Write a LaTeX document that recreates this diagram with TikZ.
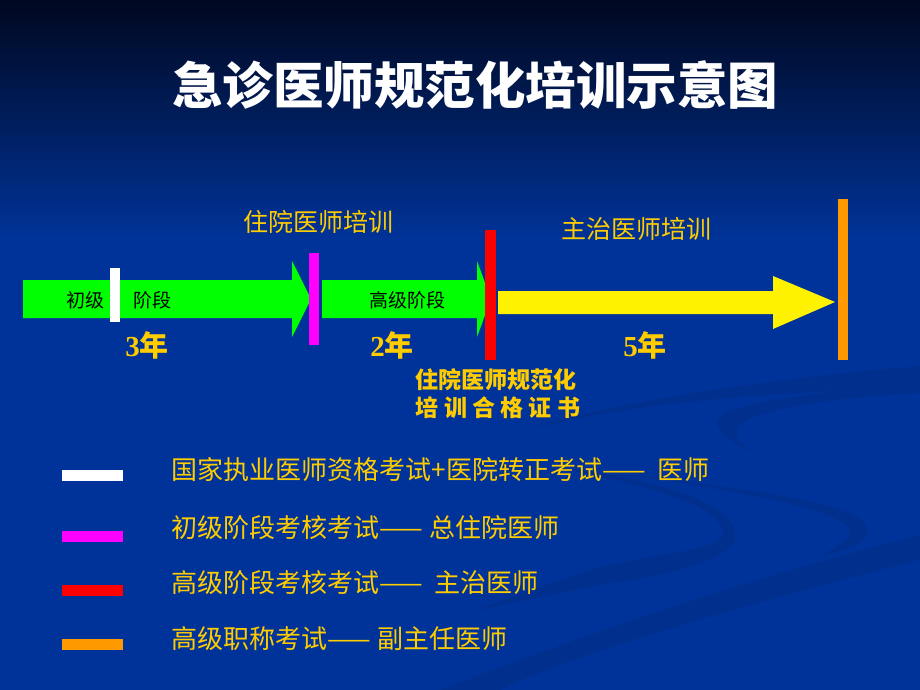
\documentclass[tikz,border=0pt]{standalone}
\usepackage{fontspec}
\setmainfont{Liberation Serif}
\newfontfamily\cjk{Noto Sans CJK SC}
\usetikzlibrary{
		positioning
	}
\definecolor{slideblue}{RGB}{0,51,153}
\definecolor{slidetop}{RGB}{0,8,32}
\definecolor{swoosh}{RGB}{0,47,142}
\definecolor{goldtext}{RGB}{255,204,0}
\definecolor{stagegreen}{RGB}{0,255,0}
\definecolor{markmagenta}{RGB}{255,0,255}
\definecolor{markorange}{RGB}{255,153,0}

\begin{document}
\begin{tikzpicture}[x=1pt, y=-1pt,
		marker/.style={inner sep=0pt, outer sep=0pt, minimum width=10pt},
		keybar/.style={inner sep=0pt, outer sep=0pt, minimum width=61pt, minimum height=11pt},
		stage/.style={font=\cjk\fontsize{19}{19}\selectfont, text=black, inner sep=0pt},
		phase/.style={font=\cjk\fontsize{25}{25}\selectfont, text=goldtext, inner sep=0pt},
		years/.style={font=\bfseries\fontsize{29}{29}\selectfont, text=goldtext, inner sep=0pt},
		keytext/.style={font=\cjk\fontsize{26}{26}\selectfont, text=goldtext, anchor=west, inner sep=0pt}]
	\useasboundingbox (0,0) rectangle (920,690);
	% background
	\fill[slideblue] (0,0) rectangle (920,690);
	\shade[top color=slidetop, bottom color=slideblue] (0,0) rectangle (920,240);
	\fill[swoosh] (520,432) .. controls (600,405) and (750,380) .. (920,366) -- (920,388) .. controls (750,392) and (620,405) .. (520,432) -- cycle;
	\fill[swoosh] (920,383) .. controls (780,395) and (700,408) .. (720,430) .. controls (728,440) and (740,447) .. (752,452) .. controls (735,440) and (725,425) .. (760,415) .. controls (800,402) and (860,396) .. (920,393) -- cycle;
	\fill[swoosh] (560,468) .. controls (650,478) and (725,500) .. (735,530) .. controls (742,555) and (690,572) .. (600,585) .. controls (550,595) and (500,605) .. (470,612) .. controls (510,597) and (560,580) .. (600,567) .. controls (680,550) and (732,548) .. (722,528) .. controls (712,505) and (650,485) .. (560,468) -- cycle;
	\fill[swoosh] (640,476) .. controls (760,490) and (860,505) .. (867,527) .. controls (872,543) and (845,550) .. (820,556) .. controls (840,545) and (855,538) .. (848,528) .. controls (840,512) and (760,495) .. (640,476) -- cycle;
	\fill[swoosh] (440,690) .. controls (520,660) and (700,590) .. (920,535) -- (920,560) .. controls (720,610) and (560,660) .. (500,690) -- cycle;

	% title
	\node[font=\cjk\bfseries\fontsize{50.5}{50.5}\selectfont, text=white, inner sep=0pt] (title) at (475,85) {急诊医师规范化培训示意图};

	% stage arrows
	\fill[stagegreen] (23,280) -- (292,280) -- (292,261) -- (311,299) -- (292,337) -- (292,318) -- (23,318) -- cycle;
	\fill[stagegreen] (322,280) -- (477,280) -- (477,261) -- (491,299) -- (477,337) -- (477,318) -- (322,318) -- cycle;
	\fill[yellow] (498,291) -- (773,291) -- (773,276) -- (835,302) -- (773,329) -- (773,314) -- (498,314) -- cycle;

	% exam markers
	\node[marker, fill=white, minimum height=54pt] (mwhite) at (115,295) {};
	\node[marker, fill=markmagenta, minimum height=92pt] (mmagenta) at (314,299) {};
	\node[marker, fill=red, minimum width=11pt, minimum height=130pt] (mred) at (490.5,295) {};
	\node[marker, fill=markorange, minimum height=161pt] (morange) at (843,279.5) {};

	% labels
	\node[stage] (junior) at (85,300) {初级};
	\node[stage] (juniorb) at (152,300) {阶段};
	\node[stage] (senior) at (407,300) {高级阶段};
	\node[phase] (resident) at (318,222) {住院医师培训};
	\node[phase] (attending) at (636,229) {主治医师培训};
	\node[years] (y3) at (147,345) {3{\cjk 年}};
	\node[years] (y2) at (392,345) {2{\cjk 年}};
	\node[years] (y5) at (645,345) {5{\cjk 年}};
	\node[font=\cjk\bfseries\fontsize{23}{28}\selectfont, text=goldtext, align=left, inner sep=0pt] (cert) at (498,394) {住院医师规范化\\培 训 合 格 证 书};

	% legend
	\node[keybar, fill=white] (key1) at (92,475.5) {};
	\node[keybar, fill=markmagenta] (key2) at (92,536.5) {};
	\node[keybar, fill=red] (key3) at (92,590) {};
	\node[keybar, fill=markorange] (key4) at (92,644) {};
	\node[keytext, right=49pt of key1, yshift=6pt] (text1) {国家执业医师资格考试+医院转正考试——\ \ 医师};
	\node[keytext, right=49pt of key2, yshift=9pt] (text2) {初级阶段考核考试——\ 总住院医师};
	\node[keytext, right=49pt of key3, yshift=7pt] (text3) {高级阶段考核考试——\ \ 主治医师};
	\node[keytext, right=49pt of key4, yshift=5pt] (text4) {高级职称考试——\ 副主任医师};
\end{tikzpicture}
\end{document}
